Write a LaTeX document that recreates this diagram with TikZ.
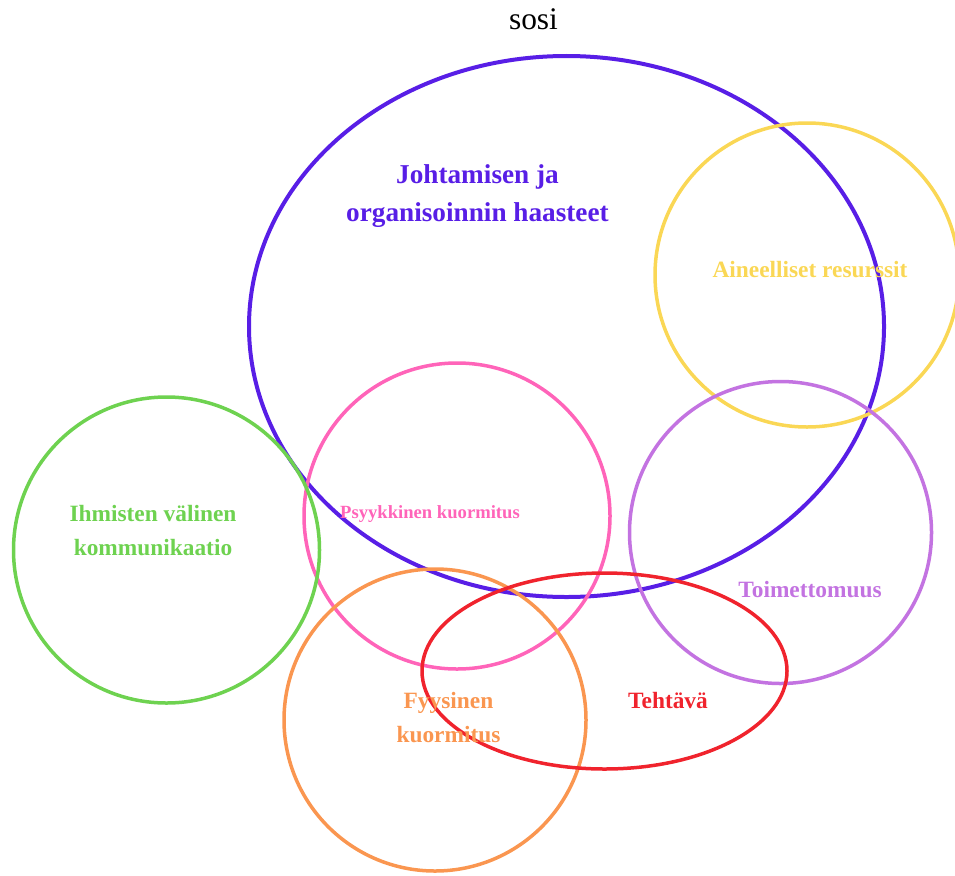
\documentclass[tikz,border=0pt]{standalone}
\usepackage{fontspec}
\setmainfont{Liberation Serif}
\usepackage{tikz}
\definecolor{johtoblue}{RGB}{88,30,230}
\definecolor{resursyellow}{RGB}{250,215,85}
\definecolor{psyykpink}{RGB}{255,100,185}
\definecolor{kommgreen}{RGB}{110,210,80}
\definecolor{toimpurple}{RGB}{195,115,225}
\definecolor{fyysorange}{RGB}{250,150,80}
\definecolor{tehtred}{RGB}{240,35,45}

\begin{document}
\begin{tikzpicture}[x=0.02cm,y=-0.02cm,
  ring/.style={line width=0.07cm},
  label/.style={font=\bfseries\fontsize{13.3}{19.5}\selectfont,align=center,inner sep=0pt}]
\useasboundingbox (0,0) rectangle (955,875);
\node [anchor=base,inner sep=0pt,font=\fontsize{17.9}{21}\selectfont] (title) at (533.5,30) {sosi};
% ympyrat
\draw [ring,johtoblue,line width=0.08cm] (566.5,326.5) ellipse [x radius=317.5,y radius=270.5];
\draw [ring,resursyellow] (807,275) circle [radius=152];
\draw [ring,psyykpink] (457,516) circle [radius=153];
\draw [ring,kommgreen] (166.5,550) circle [radius=153];
\draw [ring,toimpurple] (780.5,532.5) circle [radius=151];
\draw [ring,fyysorange] (435,720) circle [radius=151];
\draw [ring,tehtred] (604.5,671) ellipse [x radius=182.5,y radius=98];
% tekstit
\node [label,johtoblue,font=\bfseries\fontsize{15.5}{22.1}\selectfont] (johto) at (477.5,196) {Johtamisen ja\\organisoinnin haasteet};
\node [label,resursyellow,anchor=base] (resurssit) at (810,277) {Aineelliset resurssit};
\node [label,psyykpink,anchor=base,font=\bfseries\fontsize{10.6}{13}\selectfont] (psyyk) at (430,518) {Psyykkinen kuormitus};
\node [label,kommgreen,font=\bfseries\fontsize{13.3}{19.3}\selectfont] (komm) at (153,530.5) {Ihmisten välinen\\kommunikaatio};
\node [label,toimpurple,anchor=base] (toim) at (810,597) {Toimettomuus};
\node [label,fyysorange,font=\bfseries\fontsize{13.3}{19.8}\selectfont] (fyys) at (448.5,717.5) {Fyysinen\\kuormitus};
\node [label,tehtred,anchor=base] (teht) at (668,708) {Tehtävä};
\end{tikzpicture}
\end{document}
